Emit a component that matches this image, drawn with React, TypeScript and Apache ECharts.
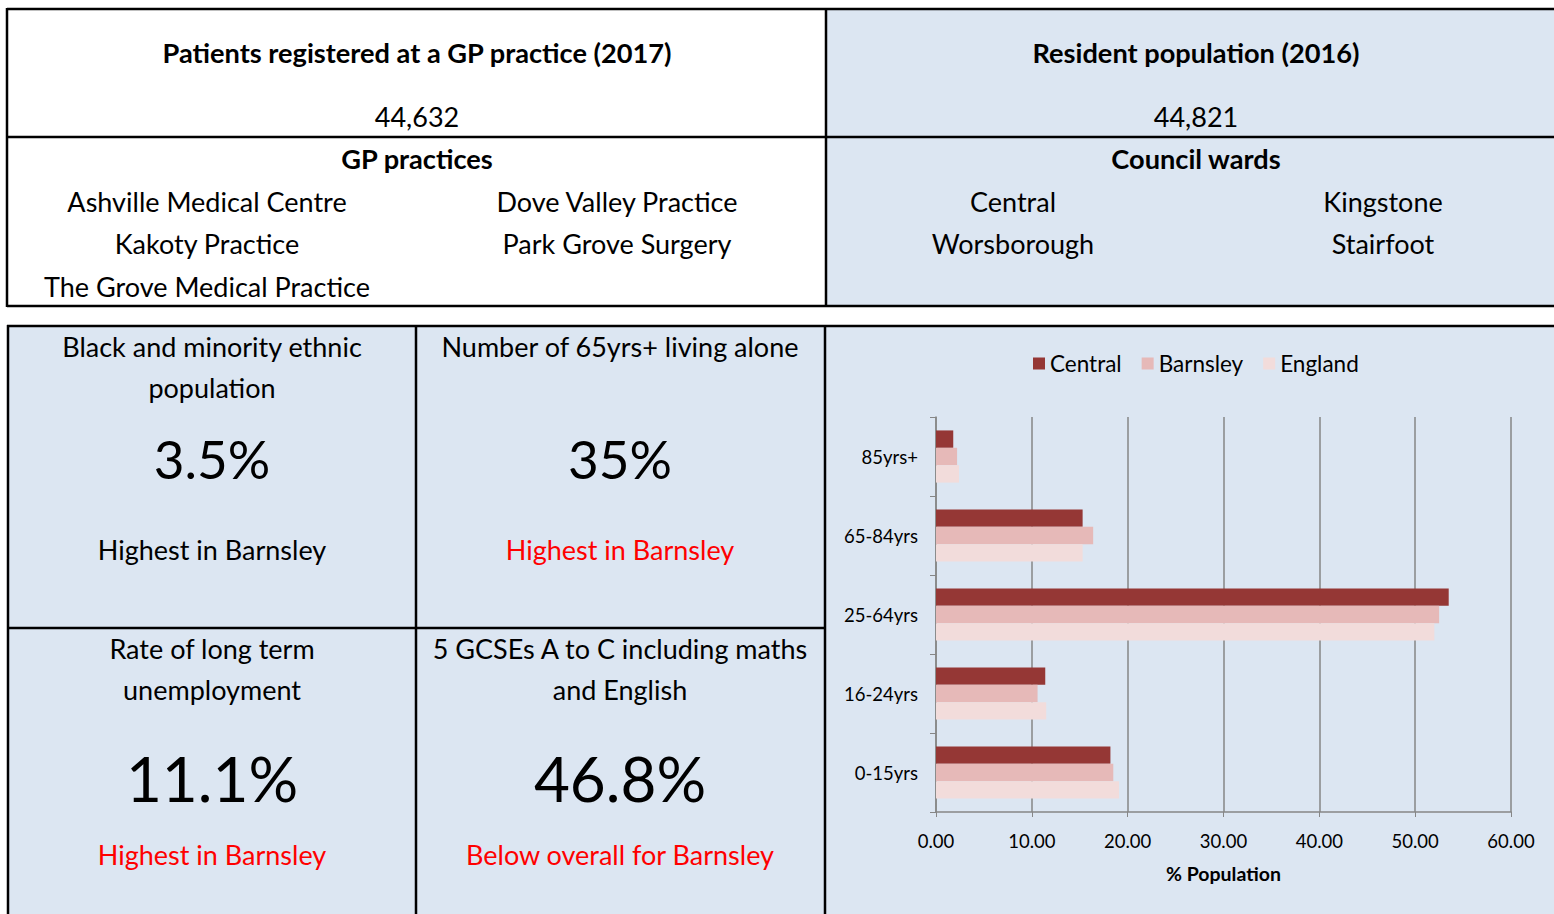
import React, { useEffect, useRef } from 'react';
import * as echarts from 'echarts';

// ---------- data ----------
const categories = ['0-15yrs', '16-24yrs', '25-64yrs', '65-84yrs', '85yrs+'];
const central = [18.2, 11.4, 53.5, 15.3, 1.8];
const barnsley = [18.5, 10.6, 52.5, 16.4, 2.2];
const england = [19.1, 11.5, 52.0, 15.3, 2.4];
const seriesNames = ['Central', 'Barnsley', 'England'];
const xMin = 0;
const xMax = 60;
const xInterval = 10;
const xAxisName = '% Population';

const gpTitle = 'Patients registered at a GP practice (2017)';
const gpCount = '44,632';
const popTitle = 'Resident population (2016)';
const popCount = '44,821';
const practicesHeading = 'GP practices';
const practices = [
  'Ashville Medical Centre',
  'Dove Valley Practice',
  'Kakoty Practice',
  'Park Grove Surgery',
  'The Grove Medical Practice',
];
const wardsHeading = 'Council wards';
const wards = ['Central', 'Kingstone', 'Worsborough', 'Stairfoot'];

const tileTitles = [
  ['Black and minority ethnic', 'population'],
  ['Number of 65yrs+ living alone'],
  ['Rate of long term', 'unemployment'],
  ['5 GCSEs A to C including maths', 'and English'],
];
const tileValues = ['3.5%', '35%', '11.1%', '46.8%'];
const tileNotes = [
  'Highest in Barnsley',
  'Highest in Barnsley',
  'Highest in Barnsley',
  'Below overall for Barnsley',
];
const tileNoteRed = [false, true, true, true];

// ---------- styles ----------
const FONT = 'Lato, "Open Sans", sans-serif';
const BLUE = '#DCE6F2';
const colors = ['#953735', '#E6B9B8', '#F2DCDB'];

function txt(text: string, x: number, y: number, size: number, opts: any = {}) {
  return {
    type: 'text',
    x,
    y,
    z: 50,
    style: {
      text,
      fontSize: size,
      fontFamily: FONT,
      fontWeight: opts.bold ? 'bold' : 'normal',
      fill: opts.color || '#000',
      align: 'center',
      verticalAlign: 'middle',
      textAlign: 'center',
      textVerticalAlign: 'middle',
    },
  };
}

function line(x1: number, y1: number, x2: number, y2: number, w = 2.5) {
  return {
    type: 'line',
    z: 100,
    shape: { x1, y1, x2, y2 },
    style: { stroke: '#000', lineWidth: w },
  };
}

function rect(x: number, y: number, width: number, height: number, fill: string) {
  return {
    type: 'rect',
    z: -1,
    shape: { x, y, width, height },
    style: { fill },
  };
}

export default function App() {
  const ref = useRef<HTMLDivElement>(null);
  useEffect(() => {
    if (!ref.current) return;
    const chart = echarts.init(ref.current, null, { renderer: 'svg' });

    const graphics: any[] = [];
    // backgrounds
    graphics.push(rect(826, 9, 760, 297, BLUE));
    graphics.push(rect(8, 326, 1580, 600, BLUE));
    // top table borders
    graphics.push(line(7, 9, 1560, 9));
    graphics.push(line(7, 137, 1560, 137));
    graphics.push(line(7, 306, 1560, 306));
    graphics.push(line(7, 8, 7, 307));
    graphics.push(line(826, 9, 826, 306));
    // bottom grid borders
    graphics.push(line(7, 326, 1560, 326));
    graphics.push(line(8, 325, 8, 920));
    graphics.push(line(416, 326, 416, 920));
    graphics.push(line(825, 326, 825, 920));
    graphics.push(line(8, 628, 825, 628));

    const REG = 27;
    const BOLD = 27.2;
    // top texts
    graphics.push(txt(gpTitle, 417, 52, BOLD, { bold: true }));
    graphics.push(txt(gpCount, 417, 116, REG));
    graphics.push(txt(popTitle, 1196, 52, BOLD, { bold: true }));
    graphics.push(txt(popCount, 1196, 116, REG));
    graphics.push(txt(practicesHeading, 417, 158, BOLD, { bold: true }));
    graphics.push(txt(wardsHeading, 1196, 158, BOLD, { bold: true }));
    const pcx = [207, 617];
    const rowY = [201, 243, 286];
    practices.forEach((p, i) => {
      graphics.push(txt(p, pcx[i % 2], rowY[Math.floor(i / 2)], REG));
    });
    const wcx = [1013, 1383];
    wards.forEach((w, i) => {
      graphics.push(txt(w, wcx[i % 2], rowY[Math.floor(i / 2)], REG));
    });

    // tiles
    const tcx = [212, 620, 212, 620];
    const tTop = [346, 346, 648, 648];
    const valY = [458, 458, 778, 778];
    const valSize = [53, 53, 62, 62];
    const noteY = [549, 549, 854, 854];
    tileTitles.forEach((lines, i) => {
      lines.forEach((l, j) => graphics.push(txt(l, tcx[i], tTop[i] + j * 41, REG)));
      graphics.push(txt(tileValues[i], tcx[i], valY[i], valSize[i]));
      graphics.push(
        txt(tileNotes[i], tcx[i], noteY[i], REG, { color: tileNoteRed[i] ? '#FF0000' : '#000' })
      );
    });

    const seriesData = [central, barnsley, england];

    chart.setOption({
      animation: false,
      backgroundColor: '#fff',
      textStyle: { fontFamily: FONT },
      graphic: { elements: graphics },
      legend: {
        data: seriesNames,
        left: 1028,
        top: 347,
        icon: 'rect',
        itemWidth: 12,
        itemHeight: 12,
        itemGap: 20,
        textStyle: { fontSize: 22.5, color: '#000', fontFamily: FONT },
      },
      grid: { left: 936, right: 43, top: 417, bottom: 102, containLabel: false },
      xAxis: {
        type: 'value',
        min: xMin,
        max: xMax,
        interval: xInterval,
        name: xAxisName,
        nameLocation: 'middle',
        nameGap: 51,
        nameTextStyle: { fontSize: 19.5, fontWeight: 'bold', color: '#000', fontFamily: FONT },
        axisLine: { show: true, lineStyle: { color: '#868686', width: 1.5 } },
        axisTick: { show: true, length: 5, lineStyle: { color: '#868686' } },
        axisLabel: {
          fontSize: 18.5,
          color: '#000',
          margin: 19,
          formatter: (v: number) => v.toFixed(2),
        },
        splitLine: { show: true, lineStyle: { color: '#868686', width: 1.5 } },
      },
      yAxis: {
        type: 'category',
        data: categories,
        axisLine: { show: true, lineStyle: { color: '#868686', width: 1.5 } },
        axisTick: { show: true, length: 6, lineStyle: { color: '#868686' } },
        axisLabel: { fontSize: 18.5, color: '#000', margin: 18 },
      },
      series: seriesNames.map((name, i) => ({
        name,
        type: 'bar',
        data: seriesData[i],
        itemStyle: { color: colors[i] },
        barGap: '0%',
        barCategoryGap: '34%',
      })),
    });
    return () => chart.dispose();
  }, []);
  return (
    <div
      ref={ref}
      style={{ position: 'fixed', left: 0, top: 0, width: 1554, height: 914 }}
    />
  );
}
